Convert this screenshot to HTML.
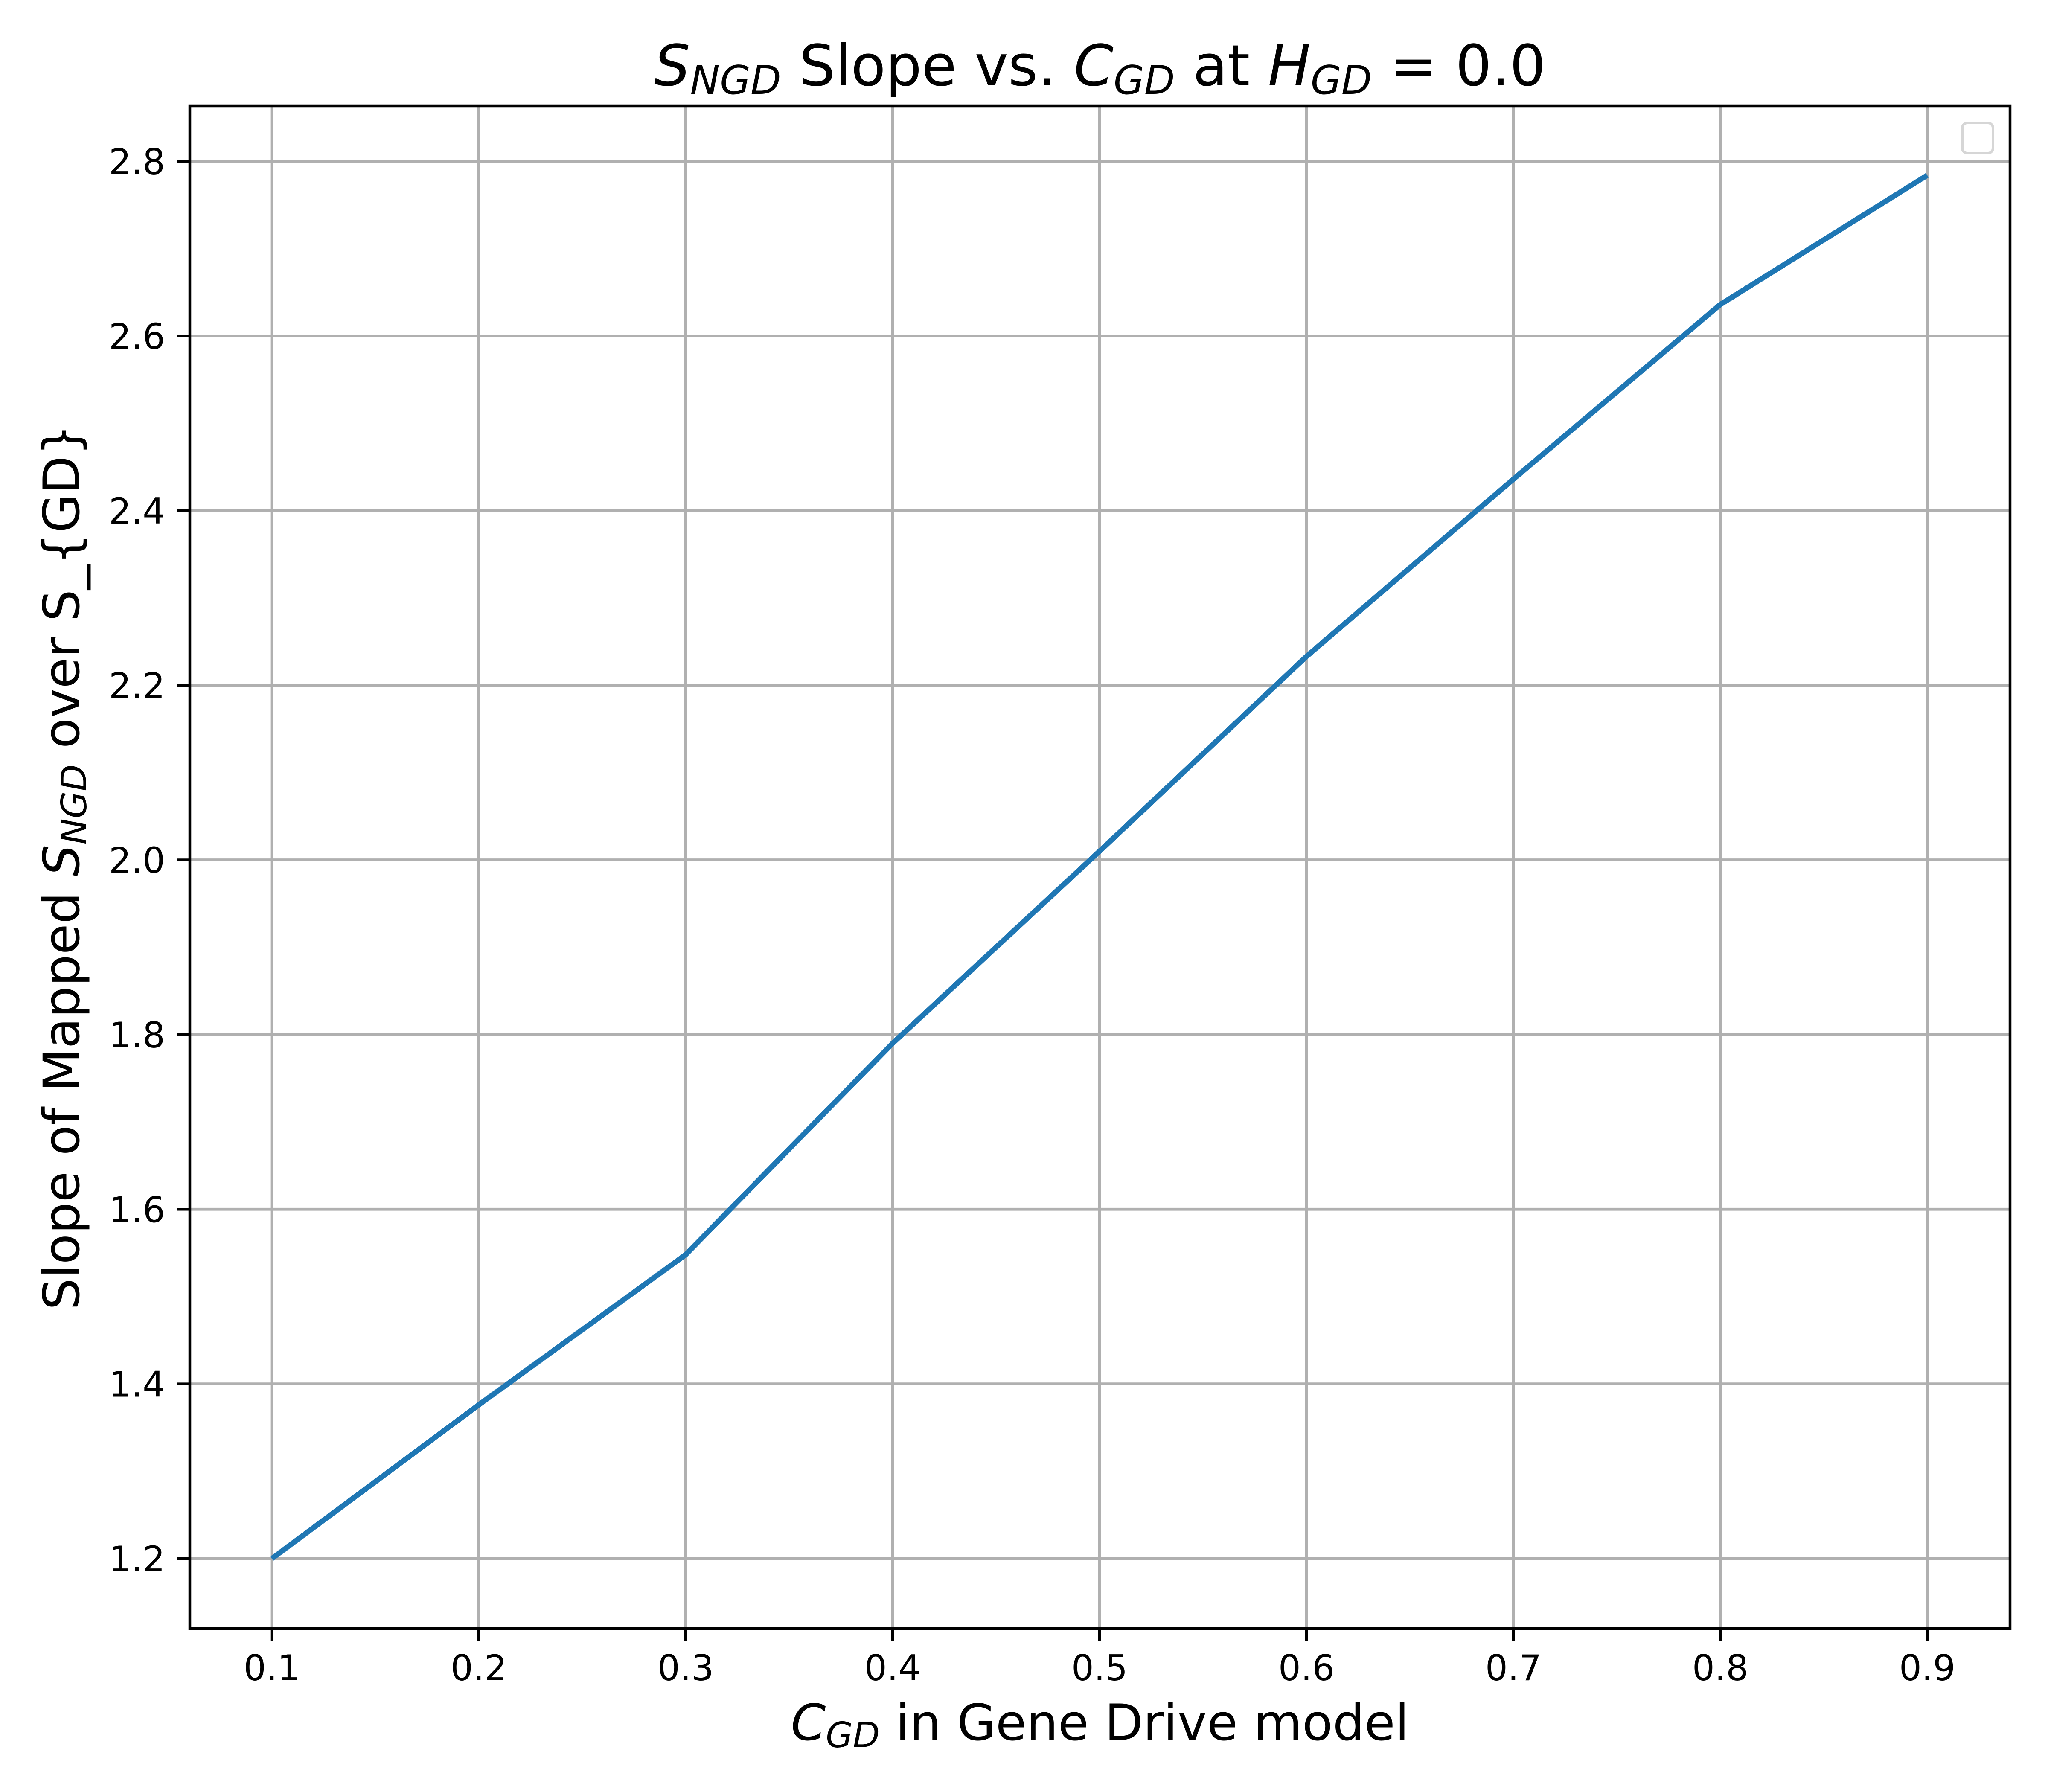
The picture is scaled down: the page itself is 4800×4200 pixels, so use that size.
<!DOCTYPE html>
<html><head><meta charset="utf-8"><style>
html,body{margin:0;padding:0;background:#fff;}
svg{display:block;font-family:"DejaVu Sans","Liberation Sans",sans-serif;}
</style></head><body>
<svg id="chart" width="4800" height="4200" viewBox="0 0 4800 4200" xmlns="http://www.w3.org/2000/svg">
<rect width="4800" height="4200" fill="#fff"/>
<g id="grid"></g>
<g id="series"></g>
<rect x="445" y="248" width="4266" height="3569" fill="none" stroke="#000" stroke-width="6.5"/>
<g id="ticks"></g>
<rect x="4599" y="288" width="72" height="71" rx="12" fill="#fff" stroke="#d6d6d6" stroke-width="6"/>
<text x="2578" y="200" font-size="133" text-anchor="middle"><tspan font-style="italic">S</tspan><tspan font-style="italic" font-size="93" dy="20">NGD</tspan><tspan dy="-20"> Slope vs. </tspan><tspan font-style="italic">C</tspan><tspan font-style="italic" font-size="93" dy="20">GD</tspan><tspan dy="-20"> at </tspan><tspan font-style="italic">H</tspan><tspan font-style="italic" font-size="93" dy="20">GD</tspan><tspan dy="-20"> = 0.0</tspan></text>
<text x="2578" y="4078" font-size="117" text-anchor="middle"><tspan font-style="italic">C</tspan><tspan font-style="italic" font-size="82" dy="17">GD</tspan><tspan dy="-17"> in Gene Drive model</tspan></text>
<text transform="translate(185,2032) rotate(-90)" font-size="117" text-anchor="middle">Slope of Mapped <tspan font-style="italic">S</tspan><tspan font-style="italic" font-size="82" dy="17">NGD</tspan><tspan dy="-17"> over S_{GD}</tspan></text>
</svg>
<script>
const xValues = [0.1,0.2,0.3,0.4,0.5,0.6,0.7,0.8,0.9];
const yValues = [1.2,1.376,1.548,1.790,2.010,2.233,2.436,2.636,2.784];
const xTicks = [0.1,0.2,0.3,0.4,0.5,0.6,0.7,0.8,0.9];
const yTicks = [1.2,1.4,1.6,1.8,2.0,2.2,2.4,2.6,2.8];

const NS='http://www.w3.org/2000/svg';
function xs(v){return 637+(v-0.1)*(4517-637)/0.8;}
function ys(v){return 3653-(v-1.2)*(3653-378)/1.6;}
function mk(tag,attrs,parent){const e=document.createElementNS(NS,tag);for(const k in attrs)e.setAttribute(k,attrs[k]);parent.appendChild(e);return e;}
const grid=document.getElementById('grid'),ticks=document.getElementById('ticks'),series=document.getElementById('series');
xTicks.forEach(t=>{
  const x=xs(t);
  const g=mk('line',{x1:x,x2:x,y1:248,y2:3817,stroke:'#b0b0b0','stroke-width':6.7},grid);
  
  
  const tk=mk('line',{x1:x,x2:x,y1:3817,y2:3846,stroke:'#000','stroke-width':6.5},ticks);
  
  
  const tl=mk('text',{x:x,y:3938,'font-size':83,'text-anchor':'middle'},ticks);
  tl.textContent=t.toFixed(1);
  
  
});
yTicks.forEach(t=>{
  const y=ys(t);
  const g=mk('line',{x1:445,x2:4711,y1:y,y2:y,stroke:'#b0b0b0','stroke-width':6.7},grid);
  
  
  const tk=mk('line',{x1:416,x2:445,y1:y,y2:y,stroke:'#000','stroke-width':6.5},ticks);
  
  
  const tl=mk('text',{x:387,y:y+30,'font-size':83,'text-anchor':'end'},ticks);
  tl.textContent=t.toFixed(1);
  
  
});
const pts=xValues.map((v,i)=>xs(v)+','+ys(yValues[i])).join(' ');
const line=mk('polyline',{points:pts,fill:'none',stroke:'#1f77b4','stroke-width':12.5,'stroke-linejoin':'round'},series);


</script>
</body></html>
